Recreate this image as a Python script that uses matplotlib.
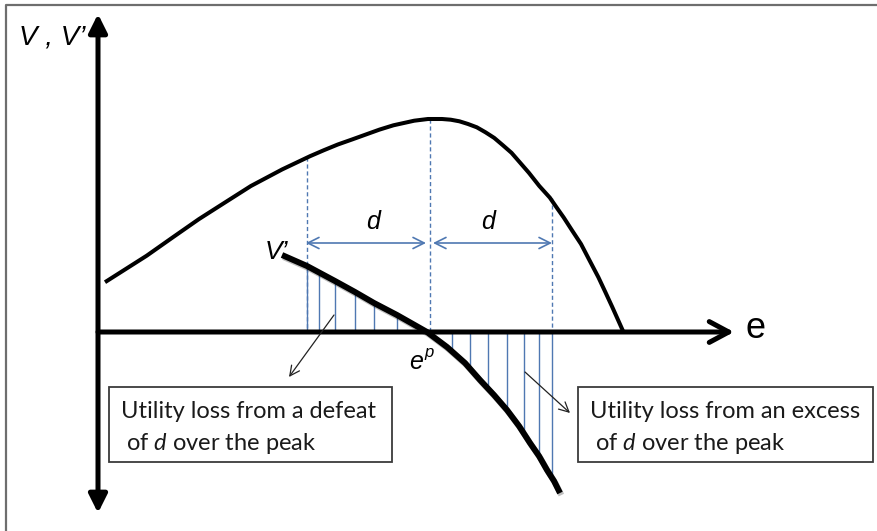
import matplotlib
matplotlib.use('Agg')
import matplotlib.pyplot as plt
import matplotlib.patheffects as pe
from matplotlib.patches import Rectangle

plt.rcParams['mathtext.fontset'] = 'custom'
plt.rcParams['mathtext.rm'] = 'Lato'
plt.rcParams['mathtext.it'] = 'Lato:italic'

# diagram coordinates (pixel space of the original figure, y grows downward)
v_x = [105, 146.7, 172.7, 198.8, 224.8, 250.9, 282.2, 310, 323.9, 337.8, 351.7,
       365.6, 379.5, 393.4, 403.8, 414.2, 428, 442, 450.7, 459.4, 468, 476.8,
       485.5, 494.2, 502.8, 511.5, 520.2, 528.9, 539.3, 549.8, 556.7, 563.7,
       572.3, 581, 589.7, 598.4, 605.4, 612.3, 623]
v_y = [282.2, 255.7, 237.4, 219.2, 202.6, 186, 169.4, 156.2, 150.2, 144.5, 139.6,
       134.6, 129.6, 125.3, 123, 120.7, 119, 119, 119.7, 121.3, 124, 127.3,
       132.3, 137.9, 145.2, 152.8, 162.8, 172.8, 186, 197.6, 207.6, 217.5,
       230.8, 244, 260.7, 277.3, 292.2, 307.1, 331]

vp_x = [282, 307, 335, 355, 374, 397, 427, 447, 465, 480, 494, 507, 519, 530, 539, 547, 554, 560]
vp_y = [255, 266, 281, 292, 303, 315, 332, 347, 363, 380, 395, 410, 426, 443, 456, 470, 481, 493]

hatch_left_x = [307, 319, 335, 355, 374, 397]
hatch_left_y = [266, 272, 281, 292, 303, 315]
hatch_right_x = [452, 470, 488, 507, 524, 539, 552]
hatch_right_y = [351, 369, 389, 410, 434, 457, 479]

guide_x = [307, 430, 552]
guide_top = [157, 119, 198]

axis_y = 332
axis_x = 98

blue = '#4f78b2'

fig = plt.figure(figsize=(8.78, 5.31), dpi=100)
ax = fig.add_axes([0, 0, 1, 1])
ax.set_xlim(0, 878)
ax.set_ylim(531, 0)
ax.axis('off')

# outer frame (only left and top visible)
ax.plot([6, 6, 878], [531, 5, 5], color='#6e6e6e', lw=1.6, solid_capstyle='butt')

# axes arrows
ax.annotate('', xy=(axis_x, 14), xytext=(axis_x, 513),
            arrowprops=dict(arrowstyle='<|-|>,head_length=11,head_width=5.5',
                            mutation_scale=1, lw=3.6, color='black',
                            shrinkA=0, shrinkB=0))
ax.annotate('', xy=(734, axis_y), xytext=(axis_x, axis_y),
            arrowprops=dict(arrowstyle='->,head_length=14,head_width=7.5',
                            mutation_scale=1, lw=3.6, color='black',
                            shrinkA=0, shrinkB=0, capstyle='round'))

# hatching
for x, y in zip(hatch_left_x, hatch_left_y):
    ax.plot([x, x], [axis_y, y], color=blue, lw=1.0, zorder=2)
for x, y in zip(hatch_right_x, hatch_right_y):
    ax.plot([x, x], [axis_y, y], color=blue, lw=1.0, zorder=2)

# dashed guides
for x, t in zip(guide_x, guide_top):
    ax.plot([x, x], [t, axis_y], color=blue, lw=1.0, ls=(0, (3, 2)), zorder=2)

# d arrows
ax.annotate('', xy=(306, 243), xytext=(426, 243),
            arrowprops=dict(arrowstyle='<->,head_length=8,head_width=4',
                            mutation_scale=1, lw=1.2, color=blue,
                            shrinkA=0, shrinkB=0))
ax.annotate('', xy=(433, 243), xytext=(552, 243),
            arrowprops=dict(arrowstyle='<->,head_length=8,head_width=4',
                            mutation_scale=1, lw=1.2, color=blue,
                            shrinkA=0, shrinkB=0))
ax.text(373, 222, 'd', fontsize=18, style='italic', ha='center', va='center',
        family='Liberation Sans')
ax.text(488, 222, 'd', fontsize=18, style='italic', ha='center', va='center',
        family='Liberation Sans')

# curves
ax.plot(v_x, v_y, color='black', lw=2.9, zorder=3, solid_capstyle='butt',
        solid_joinstyle='round')
ax.plot(vp_x, vp_y, color='black', lw=4.3, zorder=4, solid_capstyle='butt',
        solid_joinstyle='round',
        path_effects=[pe.SimpleLineShadow(offset=(1, -1.5), alpha=0.25), pe.Normal()])

# labels
ax.text(19, 38, 'V , V\u2019', fontsize=20, style='italic', ha='left', va='center',
        family='Liberation Sans')
ax.text(265, 252, 'V\u2019', fontsize=19, style='italic', ha='left', va='center',
        family='Liberation Sans')
ax.text(746, 328, 'e', fontsize=26, ha='left', va='center', family='Liberation Sans')
ax.text(409, 362, 'e', fontsize=18, ha='left', va='center', family='Liberation Sans',
        style='italic')
ax.text(424, 353, 'p', fontsize=12, style='italic', ha='left', va='center',
        family='Liberation Sans')

# pointer arrows
ax.annotate('', xy=(289, 377), xytext=(334, 315),
            arrowprops=dict(arrowstyle='->,head_length=7,head_width=3.5',
                            mutation_scale=1, lw=0.9, color='#222222',
                            shrinkA=0, shrinkB=0))
ax.annotate('', xy=(570, 413), xytext=(525, 372),
            arrowprops=dict(arrowstyle='->,head_length=7,head_width=3.5',
                            mutation_scale=1, lw=0.9, color='#222222',
                            shrinkA=0, shrinkB=0))

# text boxes
ax.add_patch(Rectangle((109, 387), 283, 75, fill=False, ec='#3a3a3a', lw=1.3))
ax.add_patch(Rectangle((578, 387), 295, 75, fill=False, ec='#3a3a3a', lw=1.3))
ax.text(121, 412, 'Utility loss from a defeat', fontsize=17, family='Lato',
        color='#1a1a1a', ha='left', va='center')
ax.text(126, 443, r'of $d$ over the peak', fontsize=17, family='Lato',
        color='#1a1a1a', ha='left', va='center')
ax.text(590, 412, 'Utility loss from an excess', fontsize=17, family='Lato',
        color='#1a1a1a', ha='left', va='center')
ax.text(595, 443, r'of $d$ over the peak', fontsize=17, family='Lato',
        color='#1a1a1a', ha='left', va='center')

fig.savefig('out.png', dpi=100)
